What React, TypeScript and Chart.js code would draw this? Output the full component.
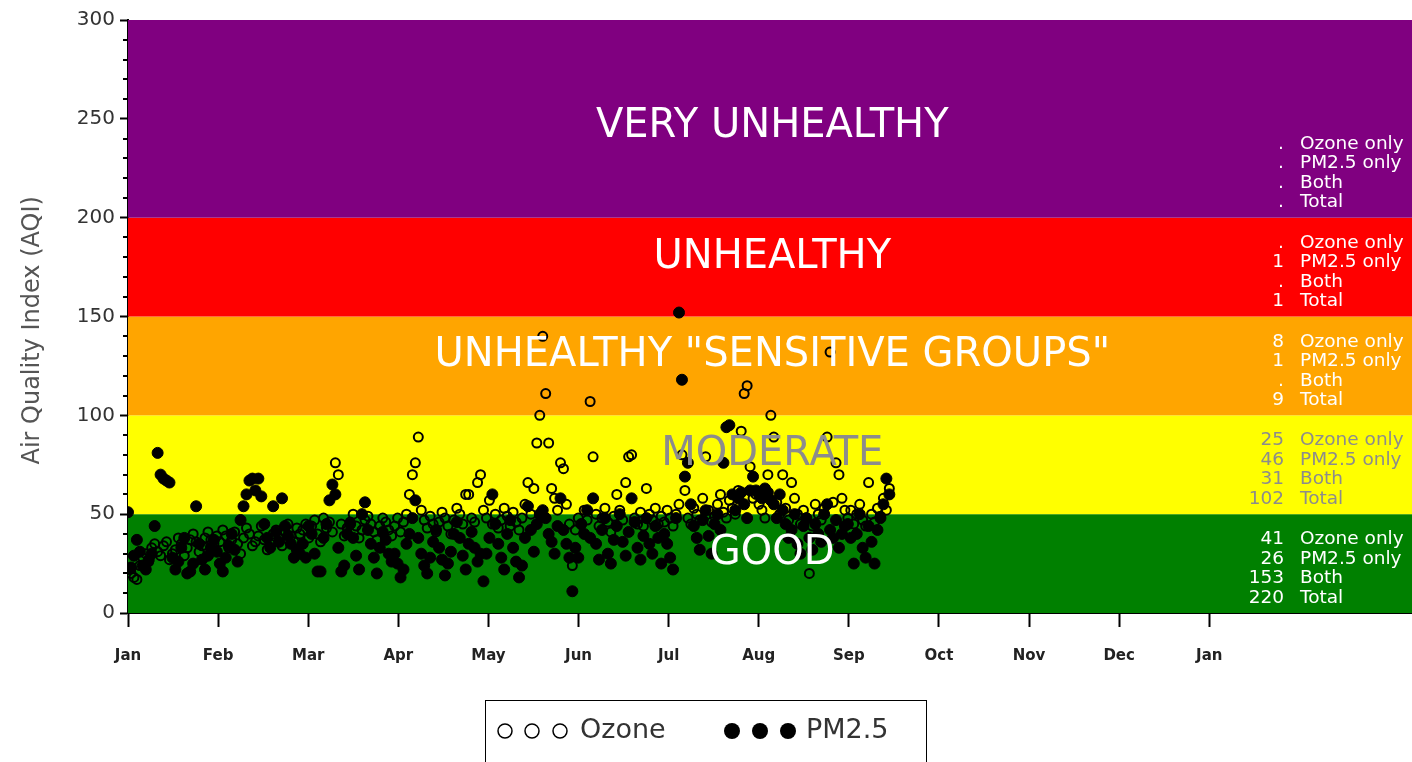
import React, { useEffect, useRef } from 'react';
import { Chart, registerables } from 'chart.js';
Chart.register(...registerables);

const monthLabels = ['Jan', 'Feb', 'Mar', 'Apr', 'May', 'Jun', 'Jul', 'Aug', 'Sep', 'Oct', 'Nov', 'Dec', 'Jan'];
const yTickValues = [0, 50, 100, 150, 200, 250, 300];

// Daily AQI values, Jan 1 .. Sep 15
const ozoneJan = [22,20,18,17,24,28,30,26,33,35,31,29,34,36,27,30,32,38,35,29,33,37,40,36,31,34,38,41,37,35,39];
const ozoneFeb = [36,42,39,33,37,41,35,30,38,43,40,34,36,39,44,37,32,35,40,42,38,34,41,45,39,36,43,40];
const ozoneMar = [42,45,38,44,47,40,36,48,43,46,41,76,70,45,39,43,46,50,44,38,42,47,49,45,41,37,44,48,46,42,39];
const ozoneApr = [44,48,41,46,50,60,70,76,89,52,47,43,49,45,41,46,51,48,44,40,47,53,50,45,60,60,48,46,66,70];
const ozoneMay = [52,48,57,45,50,43,47,53,49,44,51,46,42,48,55,66,50,63,86,100,140,111,86,63,58,52,76,73,55,45,24];
const ozoneJun = [42,48,45,52,47,107,79,50,44,48,53,46,41,49,60,52,47,66,79,80,48,45,51,44,63,50,47,53,45,49];
const ozoneJul = [46,52,48,44,50,55,80,62,48,45,53,50,47,58,79,52,46,49,55,60,51,48,57,53,50,62,92,111,115,74,58];
const ozoneAug = [60,55,52,48,70,100,89,56,50,70,53,47,66,58,50,45,52,48,20,44,55,50,47,53,89,132,56,76,70,58,52];
const ozoneSep = [48,52,45,50,55,47,44,66,50,46,53,49,58,52,63];

const pmJan = [51,23,29,37,31,24,22,27,30,44,81,70,68,67,66,28,22,26,33,38,20,21,25,54,35,27,22,29,33,37,31];
const pmFeb = [25,21,28,34,40,32,26,47,54,60,67,68,62,68,59,45,38,33,54,41,36,58,44,39,35,28,32,30];
const pmMar = [35,28,44,40,30,21,21,38,45,57,65,60,33,21,24,40,45,38,29,22,50,56,42,35,28,20,33,41,37,30,26];
const pmApr = [30,25,18,22,35,40,48,57,38,30,24,20,28,36,42,33,27,19,25,31,40,46,38,29,22,35,41,33,26,30];
const pmMay = [16,30,38,60,45,35,28,22,40,47,33,26,18,24,38,54,42,31,45,50,52,48,40,36,30,44,58,42,35,28,11];
const pmJun = [33,28,45,40,52,38,58,35,27,42,48,30,25,37,44,50,36,29,41,58,46,33,27,39,48,35,30,44,38,25];
const pmJul = [40,35,28,22,48,152,118,69,76,55,44,38,32,47,52,39,30,45,50,42,76,94,95,60,52,58,61,55,48,62,69];
const pmAug = [62,60,58,63,61,57,55,48,60,52,45,38,42,50,35,30,44,48,38,32,45,40,36,50,55,42,38,47,33,40,44];
const pmSep = [45,38,25,40,50,33,28,44,36,25,42,48,55,68,60];

// AQI bands (bottom to top)
const bandLimits = [0, 50, 100, 150, 200, 300];
const bandColors = ['#008000', '#FFFF00', '#FFA500', '#FF0000', '#800080'];
const bandNames = ['GOOD', 'MODERATE', 'UNHEALTHY "SENSITIVE GROUPS"', 'UNHEALTHY', 'VERY UNHEALTHY'];
const bandLabelAqi = [31, 81, 131, 181, 247];
const bandTextColors = ['#FFFFFF', '#8C8C8C', '#FFFFFF', '#FFFFFF', '#FFFFFF'];
const countRowLabels = ['Ozone only', 'PM2.5 only', 'Both', 'Total'];
const ozoneOnlyCounts = ['41', '25', '8', '.', '.'];
const pmOnlyCounts = ['26', '46', '1', '1', '.'];
const bothCounts = ['153', '31', '.', '.', '.'];
const totalCounts = ['220', '102', '9', '1', '.'];

const FONT = '"DejaVu Sans", Verdana, sans-serif';

const toPoints = (vals: number[]) => vals.map((v, i) => ({ x: (i * 12) / 365, y: v }));

export default function App() {
  const ref = useRef<HTMLCanvasElement | null>(null);

  useEffect(() => {
    document.body.style.margin = '0';
    const canvas = ref.current;
    if (!canvas) return;

    const ozone = [...ozoneJan, ...ozoneFeb, ...ozoneMar, ...ozoneApr, ...ozoneMay, ...ozoneJun, ...ozoneJul, ...ozoneAug, ...ozoneSep];
    const pm = [...pmJan, ...pmFeb, ...pmMar, ...pmApr, ...pmMay, ...pmJun, ...pmJul, ...pmAug, ...pmSep];

    const bandPlugin = {
      id: 'aqiBands',
      beforeDatasetsDraw(chart: any) {
        const { ctx, chartArea } = chart;
        const y = chart.scales.y;
        ctx.save();
        for (let i = 0; i < bandColors.length; i++) {
          const top = y.getPixelForValue(bandLimits[i + 1]);
          const bot = y.getPixelForValue(bandLimits[i]);
          ctx.fillStyle = bandColors[i];
          ctx.fillRect(chartArea.left, top, chartArea.right - chartArea.left, bot - top);
        }
        ctx.restore();
      },
      afterDatasetsDraw(chart: any) {
        const { ctx } = chart;
        const y = chart.scales.y;
        const x = chart.scales.x;
        ctx.save();
        ctx.textAlign = 'center';
        ctx.textBaseline = 'middle';
        ctx.font = `40px ${FONT}`;
        const cx = x.getPixelForValue(7.15);
        for (let i = 0; i < bandNames.length; i++) {
          ctx.fillStyle = bandTextColors[i];
          ctx.fillText(bandNames[i], cx, y.getPixelForValue(bandLabelAqi[i]) + 2);
        }
        ctx.font = `18.5px ${FONT}`;
        const cols = [ozoneOnlyCounts, pmOnlyCounts, bothCounts, totalCounts];
        for (let i = 0; i < bandColors.length; i++) {
          const bottom = y.getPixelForValue(bandLimits[i]);
          ctx.fillStyle = bandTextColors[i];
          for (let r = 0; r < 4; r++) {
            const ly = bottom - 15 - (3 - r) * 19.5;
            ctx.textAlign = 'right';
            ctx.fillText(cols[r][i], 1284, ly);
            ctx.textAlign = 'left';
            ctx.fillText(countRowLabels[r], 1300, ly);
          }
        }
        ctx.restore();
      },
      afterDraw(chart: any) {
        const { ctx, chartArea } = chart;
        const y = chart.scales.y;
        ctx.save();
        ctx.strokeStyle = '#000';
        ctx.lineWidth = 2;
        for (let v = 0; v <= 300; v += 10) {
          if (v % 50 === 0) continue;
          const py = Math.round(y.getPixelForValue(v));
          ctx.beginPath();
          ctx.moveTo(chartArea.left - 5, py);
          ctx.lineTo(chartArea.left, py);
          ctx.stroke();
        }
        ctx.translate(33, y.getPixelForValue(143));
        ctx.rotate(-Math.PI / 2);
        ctx.fillStyle = '#555';
        ctx.font = `24px ${FONT}`;
        ctx.textAlign = 'center';
        ctx.textBaseline = 'middle';
        ctx.fillText('Air Quality Index (AQI)', 0, 0);
        ctx.restore();

        ctx.save();
        ctx.strokeStyle = '#000';
        ctx.lineWidth = 1;
        ctx.strokeRect(485.5, 700.5, 441, 80);
        const ly = 731;
        ctx.lineWidth = 1.5;
        [505, 532, 560].forEach((px) => {
          ctx.beginPath();
          ctx.arc(px, ly, 7, 0, Math.PI * 2);
          ctx.stroke();
        });
        ctx.fillStyle = '#000';
        [732, 760, 788].forEach((px) => {
          ctx.beginPath();
          ctx.arc(px, ly, 8, 0, Math.PI * 2);
          ctx.fill();
        });
        ctx.fillStyle = '#333';
        ctx.font = `27px ${FONT}`;
        ctx.textAlign = 'left';
        ctx.textBaseline = 'middle';
        ctx.fillText('Ozone', 580, ly);
        ctx.fillText('PM2.5', 806, ly);
        ctx.restore();
      },
    };

    const chart = new Chart(canvas, {
      type: 'scatter',
      data: {
        datasets: [
          {
            label: 'Ozone',
            data: toPoints(ozone),
            pointStyle: 'circle',
            pointRadius: 4.5,
            pointBorderWidth: 2,
            pointBorderColor: '#000',
            pointBackgroundColor: 'rgba(0,0,0,0)',
            showLine: false,
          },
          {
            label: 'PM2.5',
            data: toPoints(pm),
            pointStyle: 'circle',
            pointRadius: 5.5,
            pointBorderWidth: 1,
            pointBorderColor: '#000',
            pointBackgroundColor: '#000',
            showLine: false,
          },
        ],
      },
      options: {
        animation: false,
        responsive: false,
        devicePixelRatio: 1,
        layout: { autoPadding: false, padding: { top: 20, right: 0, bottom: 0, left: 0 } },
        plugins: { legend: { display: false }, tooltip: { enabled: false } },
        scales: {
          x: {
            type: 'linear',
            min: 0,
            max: 14.25,
            afterBuildTicks: (scale: any) => {
              scale.ticks = monthLabels.map((_, i) => ({ value: i }));
            },
            afterFit: (scale: any) => {
              scale.height = 149;
              scale.paddingRight = 0;
              scale.paddingLeft = 0;
            },
            ticks: {
              autoSkip: false,
              maxRotation: 0,
              padding: 20,
              color: '#222',
              font: { family: FONT, size: 15, weight: 'bold' },
              callback: (v: any) => monthLabels[Math.round(Number(v))] ?? '',
            },
            grid: { drawOnChartArea: false, tickLength: 14, tickColor: '#000', tickWidth: 2 },
            border: { display: true, color: '#000', width: 2 },
          },
          y: {
            min: 0,
            max: 300,
            afterBuildTicks: (scale: any) => {
              scale.ticks = yTickValues.map((v) => ({ value: v }));
            },
            afterFit: (scale: any) => {
              scale.width = 128;
              scale.paddingTop = 0;
              scale.paddingBottom = 0;
            },
            ticks: {
              padding: 5,
              color: '#333',
              font: { family: FONT, size: 20 },
            },
            grid: { drawOnChartArea: false, tickLength: 8, tickColor: '#000', tickWidth: 2 },
            border: { display: true, color: '#000', width: 2 },
          },
        },
      },
      plugins: [bandPlugin],
    } as any);

    return () => chart.destroy();
  }, []);

  return <canvas ref={ref} width={1412} height={762} style={{ display: 'block' }} />;
}
